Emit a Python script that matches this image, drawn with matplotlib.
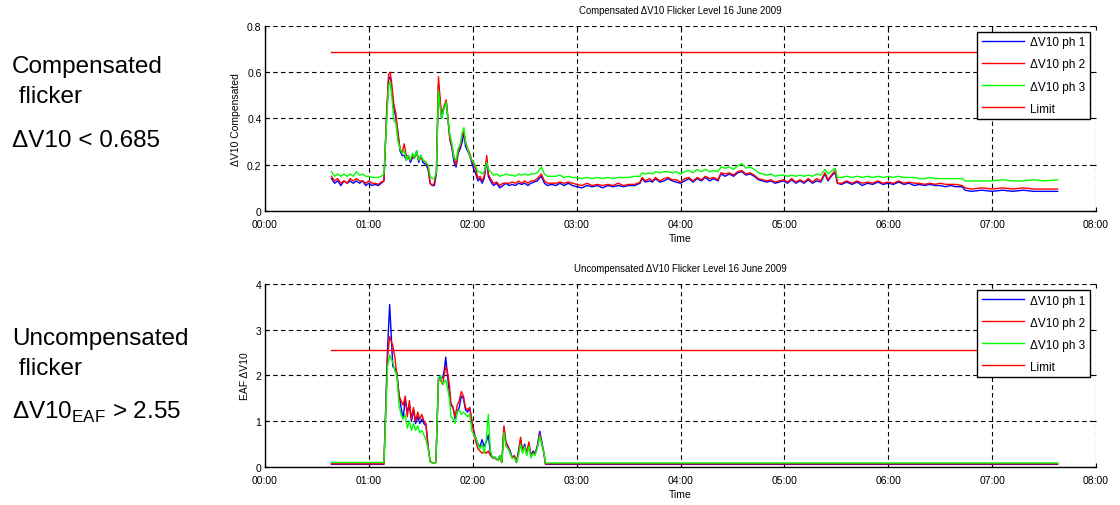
import matplotlib.pyplot as plt
from matplotlib.ticker import FormatStrFormatter

plt.rcParams['font.family'] = ['Liberation Sans', 'DejaVu Sans']
plt.rcParams['mathtext.fontset'] = 'custom'
plt.rcParams['mathtext.rm'] = 'Liberation Sans'

hour_ticks = [0, 1, 2, 3, 4, 5, 6, 7, 8]
hour_labels = ['00:00', '01:00', '02:00', '03:00', '04:00', '05:00', '06:00', '07:00', '08:00']
series_names = ['\u0394V10 ph 1', '\u0394V10 ph 2', '\u0394V10 ph 3', 'Limit']

# compensated flicker (time in hours)
t_comp = [0.64, 0.67, 0.70, 0.73, 0.76, 0.79, 0.82, 0.85, 0.88, 0.91, 0.94, 0.97, 1.00, 1.03, 1.06,
          1.09, 1.12, 1.145, 1.17, 1.19, 1.205, 1.22, 1.24, 1.26, 1.28, 1.30, 1.32, 1.34, 1.36, 1.38,
          1.40, 1.42, 1.44, 1.46, 1.48, 1.50, 1.52, 1.55, 1.57, 1.59, 1.61, 1.63, 1.65, 1.67, 1.685,
          1.70, 1.72, 1.745, 1.76, 1.78, 1.80, 1.82, 1.84, 1.86, 1.88, 1.90, 1.915, 1.93, 1.95, 1.97,
          1.99, 2.01, 2.03, 2.05, 2.07, 2.09, 2.11, 2.135, 2.15, 2.17, 2.20, 2.23, 2.26, 2.29, 2.32,
          2.35, 2.38, 2.41, 2.44, 2.47, 2.50, 2.53, 2.56, 2.59, 2.62, 2.66, 2.69, 2.72, 2.76, 2.80,
          2.84, 2.88, 2.92, 2.96, 3.00, 3.05, 3.10, 3.15, 3.20, 3.25, 3.30, 3.35, 3.40, 3.45, 3.50,
          3.56, 3.61, 3.63, 3.66, 3.70, 3.73, 3.76, 3.80, 3.84, 3.88, 3.92, 3.96, 4.00, 4.04, 4.08,
          4.12, 4.16, 4.20, 4.24, 4.28, 4.32, 4.36, 4.39, 4.43, 4.47, 4.51, 4.55, 4.59, 4.63, 4.67,
          4.71, 4.75, 4.79, 4.83, 4.87, 4.91, 4.95, 4.99, 5.03, 5.07, 5.11, 5.15, 5.19, 5.23, 5.27,
          5.31, 5.35, 5.39, 5.42, 5.46, 5.49, 5.51, 5.55, 5.60, 5.65, 5.70, 5.75, 5.80, 5.85, 5.90,
          5.95, 6.00, 6.05, 6.10, 6.15, 6.20, 6.25, 6.30, 6.35, 6.40, 6.45, 6.50, 6.55, 6.60, 6.65,
          6.71, 6.74, 6.80, 6.90, 7.00, 7.10, 7.20, 7.30, 7.40, 7.50, 7.63]
comp_ph1 = [0.14, 0.12, 0.13, 0.11, 0.13, 0.12, 0.13, 0.12, 0.13, 0.12, 0.13, 0.11, 0.12, 0.11, 0.115,
            0.11, 0.12, 0.13, 0.40, 0.57, 0.58, 0.52, 0.45, 0.40, 0.34, 0.26, 0.24, 0.24, 0.22, 0.24,
            0.21, 0.23, 0.23, 0.26, 0.21, 0.24, 0.21, 0.20, 0.18, 0.12, 0.11, 0.11, 0.16, 0.55, 0.47,
            0.40, 0.44, 0.47, 0.40, 0.31, 0.27, 0.21, 0.19, 0.25, 0.27, 0.30, 0.34, 0.28, 0.26, 0.24,
            0.21, 0.18, 0.16, 0.13, 0.14, 0.12, 0.14, 0.22, 0.15, 0.13, 0.11, 0.12, 0.10, 0.11, 0.12,
            0.11, 0.115, 0.11, 0.12, 0.115, 0.12, 0.11, 0.12, 0.125, 0.13, 0.15, 0.12, 0.11, 0.115, 0.11,
            0.12, 0.11, 0.12, 0.11, 0.105, 0.10, 0.11, 0.105, 0.11, 0.10, 0.11, 0.105, 0.11, 0.105, 0.11,
            0.11, 0.12, 0.14, 0.125, 0.13, 0.125, 0.14, 0.125, 0.13, 0.14, 0.13, 0.125, 0.12, 0.13, 0.14,
            0.125, 0.14, 0.13, 0.145, 0.13, 0.14, 0.13, 0.16, 0.15, 0.16, 0.15, 0.165, 0.17, 0.155, 0.16,
            0.15, 0.135, 0.13, 0.125, 0.13, 0.12, 0.125, 0.13, 0.12, 0.135, 0.12, 0.13, 0.12, 0.135, 0.12,
            0.13, 0.125, 0.16, 0.13, 0.155, 0.165, 0.12, 0.115, 0.125, 0.115, 0.125, 0.11, 0.12, 0.115, 0.125,
            0.115, 0.12, 0.115, 0.125, 0.115, 0.12, 0.11, 0.115, 0.11, 0.115, 0.11, 0.11, 0.105, 0.11, 0.105,
            0.105, 0.09, 0.085, 0.09, 0.085, 0.09, 0.085, 0.09, 0.085, 0.085, 0.085]
comp_ph2 = [0.15, 0.13, 0.14, 0.12, 0.13, 0.12, 0.14, 0.13, 0.14, 0.13, 0.13, 0.12, 0.13, 0.12, 0.12,
            0.115, 0.125, 0.13, 0.42, 0.59, 0.60, 0.55, 0.46, 0.42, 0.33, 0.27, 0.25, 0.29, 0.24, 0.23,
            0.22, 0.24, 0.23, 0.25, 0.22, 0.23, 0.22, 0.21, 0.19, 0.12, 0.11, 0.12, 0.17, 0.58, 0.49,
            0.41, 0.45, 0.48, 0.41, 0.31, 0.28, 0.23, 0.20, 0.26, 0.28, 0.33, 0.34, 0.30, 0.27, 0.25,
            0.22, 0.20, 0.18, 0.14, 0.15, 0.13, 0.15, 0.24, 0.16, 0.14, 0.12, 0.125, 0.11, 0.12, 0.12,
            0.12, 0.125, 0.12, 0.13, 0.12, 0.13, 0.12, 0.13, 0.13, 0.14, 0.16, 0.13, 0.12, 0.12, 0.12,
            0.125, 0.12, 0.125, 0.12, 0.115, 0.11, 0.12, 0.11, 0.115, 0.11, 0.115, 0.11, 0.12, 0.11, 0.115,
            0.115, 0.125, 0.145, 0.13, 0.14, 0.13, 0.145, 0.13, 0.14, 0.145, 0.135, 0.135, 0.125, 0.14, 0.145,
            0.13, 0.145, 0.135, 0.15, 0.14, 0.145, 0.135, 0.165, 0.16, 0.165, 0.155, 0.17, 0.175, 0.16, 0.165,
            0.155, 0.14, 0.135, 0.13, 0.135, 0.125, 0.13, 0.135, 0.125, 0.14, 0.125, 0.135, 0.125, 0.14, 0.125,
            0.14, 0.13, 0.165, 0.135, 0.16, 0.175, 0.12, 0.12, 0.13, 0.12, 0.13, 0.12, 0.125, 0.12, 0.13,
            0.12, 0.125, 0.12, 0.13, 0.12, 0.125, 0.12, 0.12, 0.115, 0.12, 0.115, 0.12, 0.115, 0.115, 0.115,
            0.11, 0.10, 0.095, 0.10, 0.095, 0.10, 0.095, 0.10, 0.095, 0.095, 0.095]
comp_ph3 = [0.17, 0.15, 0.16, 0.15, 0.16, 0.15, 0.16, 0.15, 0.17, 0.155, 0.16, 0.15, 0.15, 0.145, 0.145,
            0.145, 0.15, 0.16, 0.38, 0.54, 0.56, 0.50, 0.39, 0.38, 0.30, 0.27, 0.25, 0.26, 0.22, 0.24,
            0.22, 0.25, 0.23, 0.26, 0.22, 0.24, 0.22, 0.21, 0.20, 0.15, 0.14, 0.14, 0.17, 0.52, 0.45,
            0.40, 0.44, 0.47, 0.40, 0.33, 0.29, 0.23, 0.22, 0.27, 0.29, 0.34, 0.36, 0.30, 0.27, 0.24,
            0.22, 0.21, 0.19, 0.17, 0.17, 0.16, 0.17, 0.21, 0.18, 0.17, 0.155, 0.16, 0.15, 0.155, 0.16,
            0.155, 0.155, 0.15, 0.16, 0.155, 0.16, 0.155, 0.16, 0.16, 0.165, 0.19, 0.16, 0.15, 0.15, 0.15,
            0.155, 0.145, 0.15, 0.145, 0.145, 0.14, 0.145, 0.14, 0.145, 0.14, 0.145, 0.14, 0.145, 0.145, 0.145,
            0.15, 0.15, 0.165, 0.16, 0.165, 0.16, 0.17, 0.165, 0.17, 0.17, 0.165, 0.17, 0.16, 0.17, 0.175,
            0.165, 0.18, 0.17, 0.18, 0.17, 0.175, 0.17, 0.19, 0.185, 0.19, 0.18, 0.195, 0.205, 0.185, 0.19,
            0.18, 0.165, 0.16, 0.155, 0.16, 0.15, 0.155, 0.155, 0.15, 0.155, 0.15, 0.155, 0.15, 0.155, 0.15,
            0.16, 0.155, 0.18, 0.16, 0.175, 0.185, 0.145, 0.145, 0.15, 0.145, 0.15, 0.145, 0.15, 0.145, 0.15,
            0.145, 0.15, 0.145, 0.15, 0.145, 0.145, 0.145, 0.14, 0.14, 0.145, 0.14, 0.14, 0.14, 0.14, 0.14,
            0.14, 0.13, 0.13, 0.13, 0.13, 0.135, 0.13, 0.13, 0.135, 0.13, 0.135]
comp_limit = 0.685

# uncompensated flicker (time in hours)
t_unc = [0.64, 1.00, 1.145, 1.18, 1.20, 1.215, 1.23, 1.25, 1.27, 1.29, 1.31, 1.33, 1.35, 1.37, 1.39,
         1.41, 1.43, 1.45, 1.47, 1.49, 1.51, 1.53, 1.55, 1.57, 1.59, 1.62, 1.645, 1.67, 1.69, 1.71,
         1.725, 1.74, 1.755, 1.775, 1.79, 1.81, 1.83, 1.85, 1.87, 1.89, 1.91, 1.93, 1.95, 1.97, 1.99,
         2.01, 2.03, 2.05, 2.07, 2.09, 2.11, 2.13, 2.15, 2.17, 2.19, 2.21, 2.24, 2.26, 2.28, 2.30,
         2.32, 2.34, 2.36, 2.38, 2.40, 2.42, 2.44, 2.46, 2.48, 2.50, 2.52, 2.54, 2.56, 2.58, 2.60,
         2.62, 2.645, 2.665, 2.685, 2.70, 3.50, 5.00, 7.63]
unc_ph1 = [0.06, 0.06, 0.06, 2.6, 3.55, 2.9, 2.2, 2.15, 2.05, 1.6, 1.3, 1.05, 1.5, 1.2, 1.35,
           1.0, 1.25, 0.95, 1.1, 0.95, 1.05, 0.95, 0.9, 0.45, 0.12, 0.08, 0.1, 1.95, 1.95, 1.95,
           2.1, 2.4, 2.05, 1.6, 1.35, 1.3, 1.05, 1.2, 1.3, 1.55, 1.5, 1.25, 1.2, 1.3, 1.0,
           0.8, 0.6, 0.5, 0.45, 0.6, 0.45, 0.55, 0.7, 0.3, 0.2, 0.22, 0.15, 0.25, 0.1, 0.85,
           0.5, 0.45, 0.35, 0.2, 0.25, 0.1, 0.35, 0.6, 0.35, 0.5, 0.3, 0.5, 0.25, 0.35, 0.3,
           0.45, 0.78, 0.55, 0.3, 0.06, 0.06, 0.06, 0.06]
unc_ph2 = [0.07, 0.07, 0.07, 2.4, 2.85, 2.75, 2.65, 2.4, 2.0, 1.55, 1.45, 1.35, 1.55, 1.1, 1.45,
           1.05, 1.3, 1.0, 1.2, 1.05, 1.15, 1.0, 0.95, 0.45, 0.12, 0.08, 0.1, 1.9, 1.9, 1.8,
           2.0, 2.2, 2.1, 1.8, 1.4, 1.3, 1.1, 1.35, 1.45, 1.65, 1.55, 1.3, 1.25, 1.3, 1.05,
           0.75, 0.55, 0.4, 0.35, 0.3, 0.35, 0.3, 0.35, 0.25, 0.2, 0.2, 0.15, 0.2, 0.1, 0.9,
           0.55, 0.45, 0.3, 0.2, 0.25, 0.1, 0.3, 0.65, 0.35, 0.45, 0.3, 0.55, 0.25, 0.3, 0.3,
           0.4, 0.72, 0.5, 0.3, 0.07, 0.07, 0.07, 0.07]
unc_ph3 = [0.10, 0.10, 0.10, 2.2, 2.45, 2.35, 2.3, 2.1, 2.0, 1.35, 1.15, 1.05, 1.15, 0.85, 1.0,
           0.8, 0.95, 0.8, 0.9, 0.75, 0.8, 0.7, 0.6, 0.4, 0.12, 0.08, 0.1, 1.95, 2.0, 1.8,
           1.85, 1.9, 1.75, 1.5, 1.1, 1.05, 0.95, 1.2, 1.25, 1.15, 1.2, 1.15, 1.1, 1.15, 0.8,
           0.7, 0.65, 0.5, 0.4, 0.5, 0.3, 0.6, 1.15, 0.35, 0.2, 0.22, 0.15, 0.25, 0.1, 0.75,
           0.45, 0.4, 0.3, 0.2, 0.2, 0.1, 0.25, 0.5, 0.3, 0.45, 0.25, 0.45, 0.2, 0.3, 0.25,
           0.4, 0.68, 0.5, 0.3, 0.09, 0.09, 0.09, 0.09]
unc_limit = 2.55

fig = plt.figure(figsize=(11.2, 5.06), dpi=100)
ax1 = fig.add_axes([0.2366, 0.581, 0.742, 0.366])
ax2 = fig.add_axes([0.2366, 0.075, 0.742, 0.362])


def draw(ax, t, ph1, ph2, ph3, limit, title, ylabel, ymax, ystep):
    ax.plot(t, ph1, color='#0000ff', lw=1.0, label=series_names[0])
    ax.plot(t, ph2, color='#ff0000', lw=1.0, label=series_names[1])
    ax.plot(t, ph3, color='#00ff00', lw=1.0, label=series_names[2])
    ax.plot([t[0], t[-1]], [limit, limit], color='#ff0000', lw=1.0, label=series_names[3])
    ax.set_xlim(hour_ticks[0], hour_ticks[-1])
    ax.set_ylim(0, ymax)
    ax.set_xticks(hour_ticks)
    ax.set_xticklabels(hour_labels)
    ax.set_yticks([i * ystep for i in range(int(round(ymax / ystep)) + 1)])
    ax.yaxis.set_major_formatter(FormatStrFormatter('%g'))
    ax.grid(True, color='black', linestyle=(0, (4, 3)), linewidth=0.8)
    ax.tick_params(direction='in', length=3, labelsize=7.5, top=True, right=True)
    ax.tick_params(axis='x', pad=5.5)
    ax.tick_params(axis='y', pad=2.5)
    for s in ['top', 'right']:
        ax.spines[s].set_visible(False)
    for s in ['left', 'bottom']:
        ax.spines[s].set_linewidth(1.0)
    ax.set_title(title, fontsize=6.9, pad=9)
    ax.set_xlabel('Time', fontsize=7.5, labelpad=3)
    ax.set_ylabel(ylabel, fontsize=7.5, labelpad=4)
    leg = ax.legend(loc='upper right', fontsize=8.5, handlelength=3.6, labelspacing=0.85,
                    handletextpad=0.5, fancybox=False, framealpha=1, borderaxespad=0.5)
    leg.get_frame().set_edgecolor('black')
    leg.get_frame().set_linewidth(1.0)


draw(ax1, t_comp, comp_ph1, comp_ph2, comp_ph3, comp_limit,
     'Compensated \u0394V10 Flicker Level 16 June 2009', '\u0394V10 Compensated', 0.8, 0.2)
draw(ax2, t_unc, unc_ph1, unc_ph2, unc_ph3, unc_limit,
     'Uncompensated \u0394V10 Flicker Level 16 June 2009', 'EAF \u0394V10', 4, 1)

H = 506.0
fs = 17.5
fig.text(12 / 1120, 1 - 73 / H, 'Compensated', fontsize=fs, va='baseline')
fig.text(12 / 1120, 1 - 103 / H, ' flicker', fontsize=fs, va='baseline')
fig.text(12 / 1120, 1 - 147 / H, '\u0394V10 < 0.685', fontsize=fs, va='baseline')
fig.text(12 / 1120, 1 - 345 / H, 'Uncompensated', fontsize=fs, va='baseline')
fig.text(12 / 1120, 1 - 375 / H, ' flicker', fontsize=fs, va='baseline')
fig.text(12 / 1120, 1 - 419 / H, '\u0394V10$_{\\mathrm{EAF}}$ > 2.55', fontsize=fs, va='baseline')

fig.savefig('out.png', dpi=100, facecolor='white')
